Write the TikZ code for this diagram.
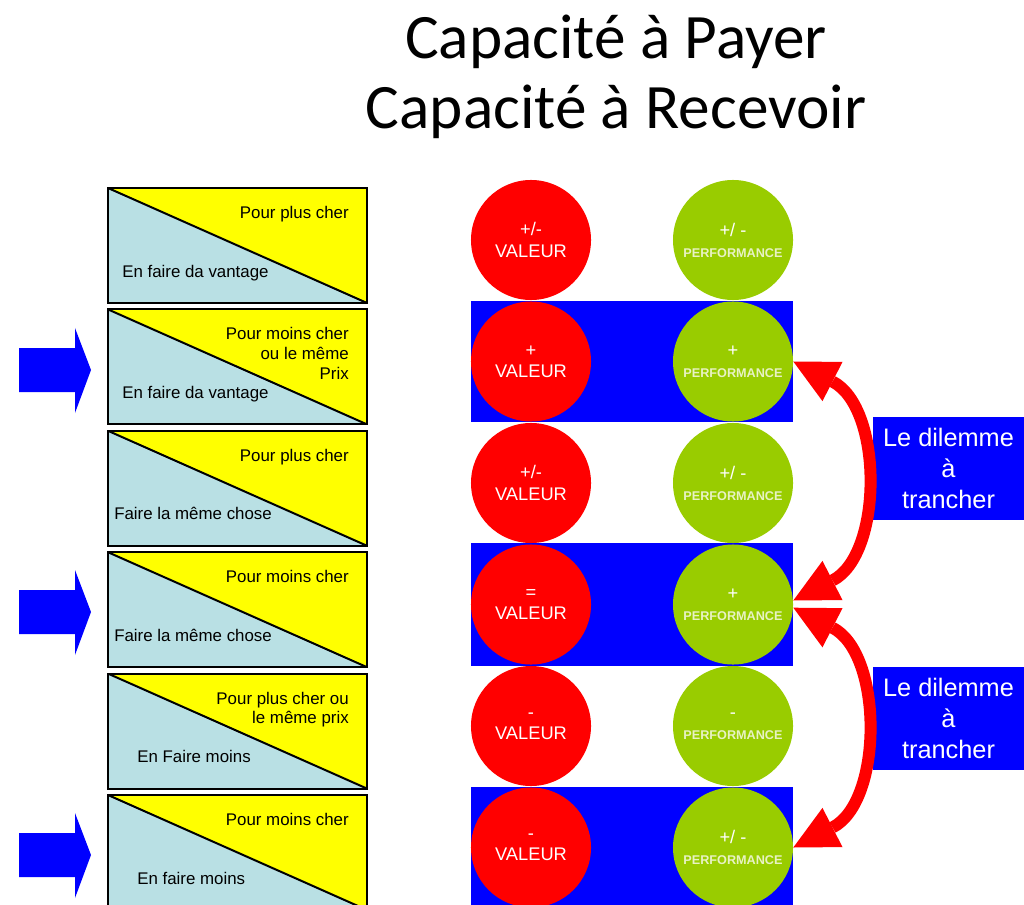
\documentclass[tikz,border=0pt]{standalone}
\usepackage{fontspec}
\setmainfont{Liberation Sans}
\newfontfamily\titrefont{Carlito}
\usetikzlibrary{arrows.meta}
\definecolor{bleuclair}{RGB}{185,224,228}
\definecolor{jaune}{RGB}{255,255,0}
\definecolor{bleu}{RGB}{0,0,255}
\definecolor{rouge}{RGB}{255,0,0}
\definecolor{vert}{RGB}{153,204,0}
\definecolor{pale}{RGB}{232,242,196}
\tikzset{
 boite/.style={draw=black,line width=0.05cm,fill=bleuclair,minimum width=6.475cm,minimum height=2.875cm,inner sep=0,
  path picture={\fill[jaune](path picture bounding box.north west)--(path picture bounding box.north east)
  --(path picture bounding box.south east)--cycle;
  \draw[line width=0.05cm](path picture bounding box.north west)--(path picture bounding box.south east);}},
 haut/.style={anchor=north east,align=right,inner sep=0,font=\fontsize{12}{14}\selectfont},
 bas/.style={anchor=base west,inner sep=0,font=\fontsize{12}{14}\selectfont},
 valeur/.style={circle,fill=rouge,minimum size=3cm,inner sep=0,text=white,align=center,font=\fontsize{13}{15}\selectfont},
 perf/.style={circle,fill=vert,minimum size=3cm,inner sep=0,text=white,align=center,font=\fontsize{13}{15}\selectfont},
 dilemme/.style={fill=bleu,text=white,minimum width=3.775cm,minimum height=2.575cm,inner sep=0,align=center,font=\fontsize{18}{22}\selectfont},
 fleche/.style={rouge,line width=0.3cm,{Triangle[length=1.1cm,width=1.1cm,line width=0pt]}-{Triangle[length=1.1cm,width=1.1cm,line width=0pt]}}
}
\begin{document}
\begin{tikzpicture}[x=0.025cm,y=-0.025cm]
\useasboundingbox(0,0)rectangle(1024,905);
%title
\node[font=\titrefont\fontsize{45}{50}\selectfont,align=center](titre)at(616,77){Capacité à Payer\\Capacité à Recevoir};
%blue bands
\fill[bleu](471,301)rectangle(793,422);
\fill[bleu](471,543)rectangle(793,666);
\fill[bleu](471,787)rectangle(793,905);
%blue arrows
\fill[bleu](19,348)--(75,348)--(75,328)--(91,370)--(75,413)--(75,392)--(19,392)--cycle;
\fill[bleu](19,590)--(75,590)--(75,570)--(91,612)--(75,655)--(75,634)--(19,634)--cycle;
\fill[bleu](19,833)--(75,833)--(75,813)--(91,855)--(75,898)--(75,877)--(19,877)--cycle;
%choices
\node[boite](b1)at(237.5,245.5){};
\node[boite](b2)at(237.5,366.9){};
\node[boite](b3)at(237.5,488.3){};
\node[boite](b4)at(237.5,609.7){};
\node[boite](b5)at(237.5,731.1){};
\node[boite](b6)at(237.5,852.5){};
\node[haut](h1)at([xshift=-0.475cm,yshift=-0.475cm]b1.north east){Pour plus cher};
\node[haut](h2)at([xshift=-0.475cm,yshift=-0.475cm]b2.north east){Pour moins cher\\ou le même\\Prix};
\node[haut](h3)at([xshift=-0.475cm,yshift=-0.475cm]b3.north east){Pour plus cher};
\node[haut](h4)at([xshift=-0.475cm,yshift=-0.475cm]b4.north east){Pour moins cher};
\node[haut](h5)at([xshift=-0.475cm,yshift=-0.475cm]b5.north east){Pour plus cher ou\\le même prix};
\node[haut](h6)at([xshift=-0.475cm,yshift=-0.475cm]b6.north east){Pour moins cher};
\node[bas](l1)at([xshift=0.375cm,yshift=0.675cm]b1.south west){En faire da vantage};
\node[bas](l2)at([xshift=0.375cm,yshift=0.675cm]b2.south west){En faire da vantage};
\node[bas](l3)at([xshift=0.175cm,yshift=0.675cm]b3.south west){Faire la même chose};
\node[bas](l4)at([xshift=0.175cm,yshift=0.675cm]b4.south west){Faire la même chose};
\node[bas](l5)at([xshift=0.75cm,yshift=0.675cm]b5.south west){En Faire moins};
\node[bas](l6)at([xshift=0.75cm,yshift=0.675cm]b6.south west){En faire moins};
%circles
\node[valeur](v1)at(531,240){+/-\\VALEUR};
\node[valeur](v2)at(531,361.5){+\\VALEUR};
\node[valeur](v3)at(531,483){+/-\\VALEUR};
\node[valeur](v4)at(531,604.5){=\\VALEUR};
\node[valeur](v5)at(531,726){-\\VALEUR};
\node[valeur](v6)at(531,847.5){-\\VALEUR};
\node[perf](p1)at(733,240){+/ -\\\textcolor{pale}{\bfseries\fontsize{9}{11}\selectfont PERFORMANCE}};
\node[perf](p2)at(733,361.5){+\\\textcolor{pale}{\bfseries\fontsize{9}{11}\selectfont PERFORMANCE}};
\node[perf](p3)at(733,483){+/ -\\\textcolor{pale}{\bfseries\fontsize{9}{11}\selectfont PERFORMANCE}};
\node[perf](p4)at(733,604.5){+\\\textcolor{pale}{\bfseries\fontsize{9}{11}\selectfont PERFORMANCE}};
\node[perf](p5)at(733,726){-\\\textcolor{pale}{\bfseries\fontsize{9}{11}\selectfont PERFORMANCE}};
\node[perf](p6)at(733,847.5){+/ -\\\textcolor{pale}{\bfseries\fontsize{9}{11}\selectfont PERFORMANCE}};
%dilemma
\node[dilemme](d1)at(948.5,468.5){Le dilemme\\à\\trancher};
\node[dilemme](d2)at(948.5,718.5){Le dilemme\\à\\trancher};
\coordinate(m1)at([yshift=0.1cm]p4.east);
\coordinate(m2)at([yshift=-0.08cm]p4.east);
\draw[fleche](p2.east)..controls+(90,46)and+(90,-46)..(m1);
\draw[fleche](m2)..controls+(90,46)and+(90,-46)..(p6.east);
\end{tikzpicture}
\end{document}
